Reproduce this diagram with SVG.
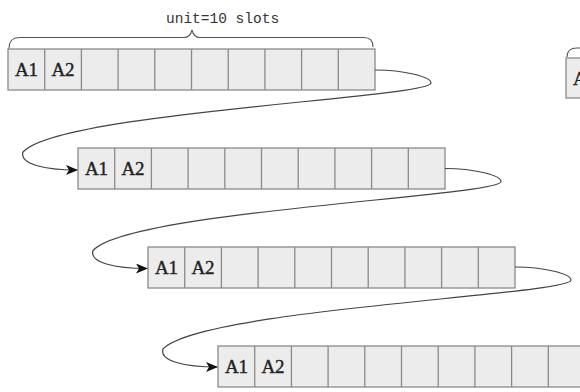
<svg xmlns="http://www.w3.org/2000/svg" width="580" height="392" viewBox="0 0 580 392">
  <style>
    .cell { fill: #ececec; stroke: #8a8a8a; stroke-width: 1.3; }
    .div { stroke: #8a8a8a; stroke-width: 1.3; }
    .lbl { font-family: "Liberation Serif", "DejaVu Serif", serif; font-size: 19px; fill: #222; stroke: #222; stroke-width: 0.4; text-anchor: middle; }
    .note { font-family: "Liberation Mono", "DejaVu Sans Mono", monospace; font-size: 14.5px; fill: #333; }
    .brace { fill: none; stroke: #555; stroke-width: 1.1; }
    .link { fill: none; stroke: #444; stroke-width: 1.2; }
  </style>
  <defs>
    <marker id="arrow" viewBox="0 0 12 10" refX="11" refY="5" markerWidth="12" markerHeight="10" markerUnits="userSpaceOnUse" orient="auto">
      <path d="M0,0 L12,5 L0,10 L3,5 Z" fill="#111"/>
    </marker>
    <!-- one unit: ten slots of 36.7 px -->
    <g id="slots">
      <rect class="cell" x="0" y="0" width="367" height="41"/>
      <path class="div" d="M36.7,0v41M73.4,0v41M110.1,0v41M146.8,0v41M183.5,0v41M220.2,0v41M256.9,0v41M293.6,0v41M330.3,0v41"/>
      <text class="lbl" x="18.5" y="27">A1</text>
      <text class="lbl" x="55" y="27">A2</text>
    </g>
  </defs>

  <!-- brace over the first unit -->
  <g id="brace">
    <path class="brace" d="M9,49 C9,41 12,37.5 20,37.5 L184,37.5 C189,37.5 191,34 192,30 C193,34 195,37.5 200,37.5 L364,37.5 C371,37.5 373,41 373,47"/>
    <text class="note" x="166" y="23">unit=10 slots</text>
  </g>

  <g id="unit1" transform="translate(8,49)"><use href="#slots"/></g>
  <g id="unit2" transform="translate(78,148)"><use href="#slots"/></g>
  <g id="unit3" transform="translate(148,247)"><use href="#slots"/></g>
  <g id="unit4" transform="translate(218,346)"><use href="#slots"/></g>

  <!-- start of the next column, cut by the edge -->
  <g id="unit5">
    <path class="brace" d="M567,57 C567,51 570,48 577,48 L580,48"/>
    <rect class="cell" x="566" y="58" width="40" height="40"/>
    <text class="lbl" x="584.5" y="85">A1</text>
  </g>

  <g id="links">
    <path class="link" marker-end="url(#arrow)" d="M375,70 C405,70 431,77 431,83 C431,98 60,112 23,152 C19,164 45,170 77,170"/>
    <path class="link" marker-end="url(#arrow)" transform="translate(70,98.5)" d="M375,70 C405,70 431,77 431,83 C431,98 60,112 23,152 C19,164 45,170 77,170"/>
    <path class="link" marker-end="url(#arrow)" transform="translate(140,197)" d="M375,70 C405,70 431,77 431,83 C431,98 60,112 23,152 C19,164 45,170 77,170"/>
  </g>
</svg>
